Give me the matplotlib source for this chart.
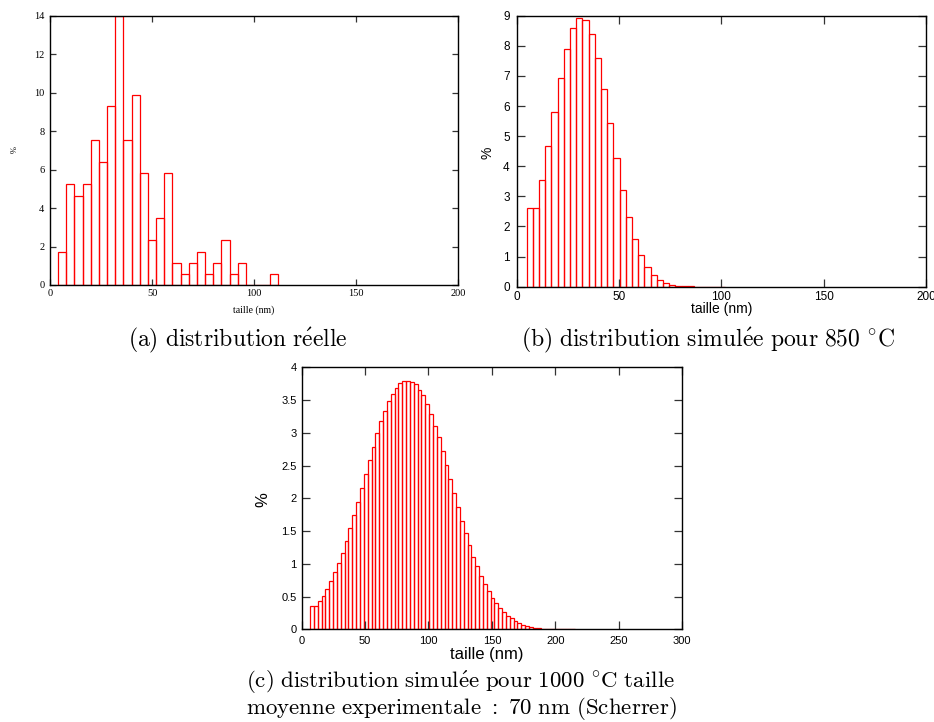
import numpy as np
import matplotlib
matplotlib.use("Agg")
import matplotlib.pyplot as plt
from matplotlib.ticker import FuncFormatter

plt.rcParams['mathtext.fontset'] = 'cm'

# ---------------- data ----------------
# (a) measured distribution: bins of 4 nm starting at 4 nm
a_bin_start = 4.0
a_bin_width = 4.0
a_heights = [1.74, 5.23, 4.65, 5.23, 7.56, 6.40, 9.30, 14.0, 7.56, 9.88,
             5.81, 2.33, 3.49, 5.81, 1.16, 0.58, 1.16, 1.74, 0.58, 1.16,
             2.33, 0.58, 1.16, 0.0, 0.0, 0.0, 0.58]

# (b) simulated distribution at 850 C
b_bin_start = 4.8
b_bin_width = 3.03
b_heights = [2.60, 2.60, 3.56, 4.67, 5.81, 6.93, 7.90, 8.58, 8.92, 8.86,
             8.40, 7.60, 6.58, 5.43, 4.28, 3.22, 2.31, 1.59, 1.04, 0.64,
             0.38, 0.21, 0.11, 0.055, 0.03, 0.015, 0.008, 0.004, 0.002,
             0.001, 0.0005, 0.0003]

# (c) simulated distribution at 1000 C
c_bin_start = 6.6
c_bin_width = 3.03
c_heights = [0.35, 0.35, 0.43, 0.51, 0.62, 0.73, 0.87, 1.01, 1.17, 1.35,
             1.54, 1.74, 1.94, 2.16, 2.37, 2.59, 2.79, 2.99, 3.18, 3.34,
             3.49, 3.60, 3.69, 3.76, 3.79, 3.79, 3.78, 3.74, 3.66, 3.57,
             3.44, 3.29, 3.11, 2.93, 2.72, 2.51, 2.30, 2.08, 1.87, 1.66,
             1.47, 1.29, 1.11, 0.96, 0.82, 0.69, 0.58, 0.48, 0.40, 0.33,
             0.27, 0.21, 0.17, 0.13, 0.10, 0.07, 0.05, 0.036, 0.026, 0.018,
             0.012, 0.008, 0.005, 0.003, 0.002, 0.001, 0.0007, 0.0004, 0.0002]

a_xticks = [0, 50, 100, 150, 200]
a_yticks = [0, 2, 4, 6, 8, 10, 12, 14]
b_xticks = [0, 50, 100, 150, 200]
b_yticks = [0, 1, 2, 3, 4, 5, 6, 7, 8, 9]
c_xticks = [0, 50, 100, 150, 200, 250, 300]
c_yticks = [0, 0.5, 1, 1.5, 2, 2.5, 3, 3.5, 4]

xlabel = "taille (nm)"
ylabel = "%"
cap_a = r"$\mathrm{(a)\ distribution\ r\acute{e}elle}$"
cap_b = r"$\mathrm{(b)\ distribution\ simul\acute{e}e\ pour\ 850\ }^{\circ}\mathrm{C}$"
cap_c1 = r"$\mathrm{(c)\ distribution\ simul\acute{e}e\ pour\ 1000\ }^{\circ}\mathrm{C\ taille}$"
cap_c2 = r"$\mathrm{moyenne\ experimentale\ :\ 70\ nm\ (Scherrer)}$"

# ---------------- layout ----------------
W, H = 934, 722
fig = plt.figure(figsize=(W / 100, H / 100), dpi=100)
fig.patch.set_facecolor('white')


def rect(l, r, t, b):
    return [l / W, 1 - b / H, (r - l) / W, (b - t) / H]


def fmt(v, pos):
    return "%g" % v


def draw_hist(ax, start, width, heights):
    heights = np.asarray(heights, dtype=float)
    lefts = start + width * np.arange(len(heights))
    ax.bar(lefts, heights, width=width, align='edge', fill=False,
           edgecolor='#ff0000', linewidth=0.9)


def style(ax, xticks, yticks, xlim, ylim, family, size, ticklen, xpad, ypad):
    ax.set_xlim(*xlim)
    ax.set_ylim(*ylim)
    ax.set_xticks(xticks)
    ax.set_yticks(yticks)
    ax.xaxis.set_major_formatter(FuncFormatter(fmt))
    ax.yaxis.set_major_formatter(FuncFormatter(fmt))
    ax.tick_params(axis='both', which='major', direction='in', top=True,
                   right=True, length=ticklen, width=0.9, color='#333333',
                   labelsize=size)
    ax.tick_params(axis='x', pad=xpad)
    ax.tick_params(axis='y', pad=ypad)
    for lab in ax.get_xticklabels() + ax.get_yticklabels():
        lab.set_family(family)
    for sp in ax.spines.values():
        sp.set_linewidth(1.0)
        sp.set_color('black')


# (a)
ax_a = fig.add_axes(rect(50, 458, 15.7, 285))
draw_hist(ax_a, a_bin_start, a_bin_width, a_heights)
style(ax_a, a_xticks, a_yticks, (0, 200), (0, 14), 'Liberation Serif', 7.5, 4, 3, 4)
fig.text(254 / W, 1 - 310 / H, xlabel, family='Liberation Serif', fontsize=7,
         ha='center', va='center')
fig.text(15 / W, 1 - 150 / H, ylabel, family='Liberation Serif', fontsize=6,
         ha='center', va='center', rotation=90)

# (b)
ax_b = fig.add_axes(rect(516.7, 926, 15.7, 286.7))
draw_hist(ax_b, b_bin_start, b_bin_width, b_heights)
style(ax_b, b_xticks, b_yticks, (0, 200), (0, 9), 'Liberation Sans', 8.5, 6, 3, 5)
fig.text(721.7 / W, 1 - 309.5 / H, xlabel, family='Liberation Sans', fontsize=10,
         ha='center', va='center')
fig.text(488 / W, 1 - 153 / H, ylabel, family='Liberation Sans', fontsize=10,
         ha='center', va='center', rotation=90)

# (c)
ax_c = fig.add_axes(rect(301.7, 682, 367.3, 629.3))
draw_hist(ax_c, c_bin_start, c_bin_width, c_heights)
style(ax_c, c_xticks, c_yticks, (0, 300), (0, 4), 'Liberation Sans', 8, 6, 5, 3.6)
fig.text(486.7 / W, 1 - 654 / H, xlabel, family='Liberation Sans', fontsize=12,
         ha='center', va='center')
fig.text(263 / W, 1 - 500 / H, ylabel, family='Liberation Sans', fontsize=12,
         ha='center', va='center', rotation=90)

# captions
fig.text(238 / W, 1 - 340 / H, cap_a, fontsize=17, ha='center', va='center')
fig.text(708 / W, 1 - 340 / H, cap_b, fontsize=17, ha='center', va='center')
fig.text(246 / W, 1 - 682 / H, cap_c1, fontsize=16.5, ha='left', va='center')
fig.text(246 / W, 1 - 709 / H, cap_c2, fontsize=16.5, ha='left', va='center')

fig.savefig("out.png", dpi=100, facecolor='white')
